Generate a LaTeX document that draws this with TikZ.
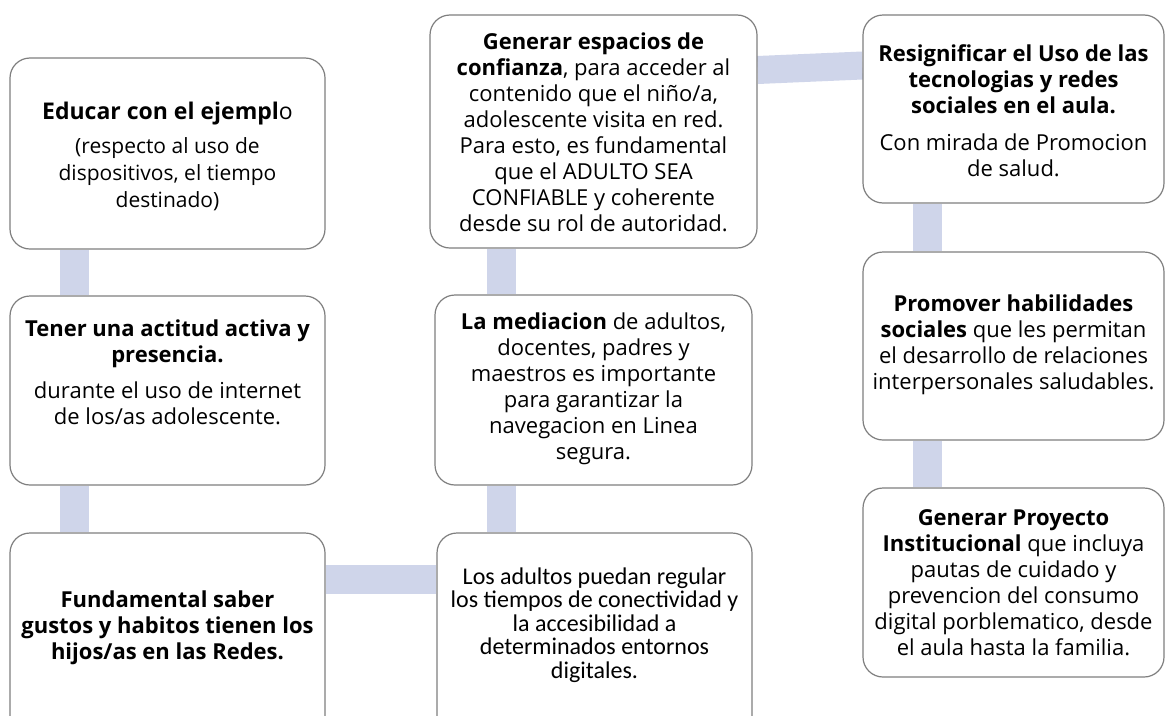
\documentclass[tikz,border=0pt]{standalone}
\usepackage{fontspec}
\setmainfont{Open Sans}
\newfontfamily\calibfont{Carlito}
\usetikzlibrary{calc,backgrounds}
\definecolor{barc}{HTML}{CFD5EA}
\definecolor{edgec}{HTML}{7F7F7F}
\begin{document}
\begin{tikzpicture}[x=1pt,y=-1pt,
  box/.style={draw=edgec, line width=1.2pt, rounded corners=20pt, fill=white, inner sep=0pt},
  bar/.style={draw=barc, line width=29pt},
  txt/.style={align=center, font=\fontsize{22}{26}\selectfont, inner sep=0pt, text=black}]
\path[use as bounding box, clip] (0,0) rectangle (1166,715);
% boxes
\node[box, minimum width=315pt, minimum height=191pt] (A) at (167.5,153.5) {};
\node[box, minimum width=315pt, minimum height=189pt] (B) at (167.5,390.5) {};
\node[box, minimum width=315pt, minimum height=212pt] (C) at (167.5,639) {};
\node[box, minimum width=327pt, minimum height=233pt] (F) at (593.5,131.5) {};
\node[box, minimum width=317pt, minimum height=190pt] (E) at (593.5,390) {};
\node[box, minimum width=315pt, minimum height=212pt] (D) at (594.5,639) {};
\node[box, minimum width=301pt, minimum height=188pt] (G) at (1013.5,109) {};
\node[box, minimum width=301pt, minimum height=188pt] (H) at (1013.5,346) {};
\node[box, minimum width=301pt, minimum height=189pt] (I) at (1013.5,582.5) {};
% connector guides
\coordinate (c1) at (74.5,0);
\coordinate (c2) at (501,0);
\coordinate (c3) at (927.5,0);
\coordinate (yt1) at (0,70);
\coordinate (yt2) at (0,65.5);
\coordinate (ym) at (0,579.5);
\begin{scope}[on background layer]
\fill[white] (0,0) rectangle (1166,715);
\draw[bar] (A.south -| c1) -- (B.north -| c1);
\draw[bar] (B.south -| c1) -- (C.north -| c1);
\draw[bar] (F.south -| c2) -- (E.north -| c2);
\draw[bar] (E.south -| c2) -- (D.north -| c2);
\draw[bar] (G.south -| c3) -- (H.north -| c3);
\draw[bar] (H.south -| c3) -- (I.north -| c3);
\draw[bar] (C.east |- ym) -- (D.west |- ym);
\draw[bar, line width=28pt] (F.east |- yt1) -- (G.west |- yt2);
\end{scope}
% texts
\node[txt, font=\fontsize{21}{27}\selectfont] (tA) at (167.5,156) {{\fontsize{23}{27}\selectfont\textbf{Educar con el ejempl}o}\\[7pt](respecto al uso de\\dispositivos, el tiempo\\destinado)};
\node[txt] (tB) at (167.5,372) {\textbf{Tener una actitud activa y}\\\textbf{presencia.}\\[10pt]durante el uso de internet\\de los/as adolescente.};
\node[txt] (tC) at (167.5,627.5) {\textbf{Fundamental saber}\\\textbf{gustos y habitos tienen los}\\\textbf{hijos/as en las Redes.}};
\node[txt] (tF) at (593.5,132) {\textbf{Generar espacios de}\\\textbf{confianza}, para acceder al\\contenido que el niño/a,\\adolescente visita en red.\\Para esto, es fundamental\\que el ADULTO SEA\\CONFIABLE y coherente\\desde su rol de autoridad.};
\node[txt] (tE) at (593.5,388.5) {\textbf{La mediacion} de adultos,\\docentes, padres y\\maestros es importante\\para garantizar la\\navegacion en Linea\\segura.};
\node[txt, font=\calibfont\fontsize{24}{23.5}\selectfont] (tD) at (594.5,625) {Los adultos puedan regular\\los tiempos de conectividad y\\la accesibilidad a\\determinados entornos\\digitales.};
\node[txt] (tG) at (1013.5,110.5) {\textbf{Resignificar el Uso de las}\\\textbf{tecnologias y redes}\\\textbf{sociales en el aula.}\\[11pt]Con mirada de Promocion\\de salud.};
\node[txt] (tH) at (1013.5,344.5) {\textbf{Promover habilidades}\\\textbf{sociales} que les permitan\\el desarrollo de relaciones\\interpersonales saludables.};
\node[txt] (tI) at (1013.5,582.5) {\textbf{Generar Proyecto}\\\textbf{Institucional} que incluya\\pautas de cuidado y\\prevencion del consumo\\digital porblematico, desde\\el aula hasta la familia.};
\end{tikzpicture}
\end{document}
